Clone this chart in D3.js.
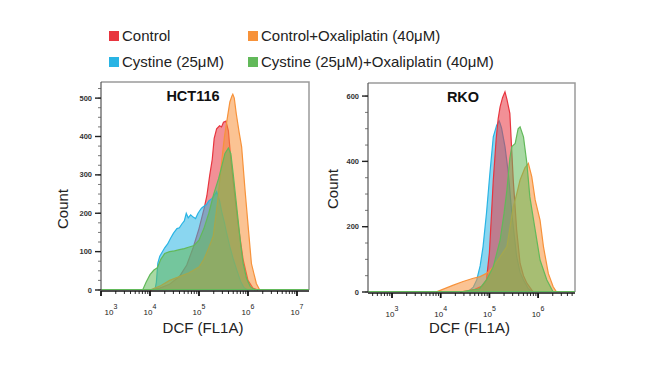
<!DOCTYPE html>
<html><head><meta charset="utf-8">
<script src="https://cdn.jsdelivr.net/npm/d3@7"></script>
<style>
html,body{margin:0;padding:0;background:#fff;}
svg{display:block;font-family:"Liberation Sans",Arial,sans-serif;}
</style></head><body>
<svg id="chart" width="650" height="369"></svg>
<script>
// ---- data (x values are log10 of DCF intensity, y values are counts) ----
const seriesNames = ["Control","Cystine (25μM)","Control+Oxaliplatin (40μM)","Cystine (25μM)+Oxaliplatin (40μM)"];
const seriesColors = ["#e8353f","#29b4e4","#f7923a","#62b95a"];
const panelTitles = ["HCT116","RKO"];
const xAxisTitle = "DCF (FL1A)";
const yAxisTitle = "Count";

// HCT116
const hctControl = [[4.0,0],[4.2,5],[4.4,15],[4.6,35],[4.75,65],[4.88,110],[5.0,160],[5.1,210],[5.16,245],[5.22,300],[5.27,340],[5.31,395],[5.36,420],[5.42,428],[5.46,425],[5.5,437],[5.55,440],[5.6,415],[5.65,340],[5.7,280],[5.8,170],[5.9,80],[6.0,25],[6.1,5],[6.2,0]];
const hctCystine = [[4.1,0],[4.13,20],[4.16,70],[4.2,88],[4.3,110],[4.36,120],[4.42,135],[4.48,148],[4.55,160],[4.6,162],[4.65,172],[4.7,180],[4.74,200],[4.78,188],[4.83,196],[4.88,190],[4.93,186],[4.98,200],[5.05,213],[5.1,218],[5.15,222],[5.2,232],[5.26,238],[5.31,246],[5.36,256],[5.42,232],[5.47,200],[5.52,175],[5.56,150],[5.63,113],[5.7,80],[5.77,52],[5.85,22],[5.92,6],[6.0,0]];
const hctControlOx = [[4.0,0],[4.2,10],[4.4,25],[4.6,35],[4.8,45],[5.0,60],[5.1,80],[5.2,110],[5.29,140],[5.38,230],[5.45,320],[5.52,400],[5.58,450],[5.63,490],[5.67,505],[5.69,510],[5.72,500],[5.76,460],[5.82,410],[5.87,373],[5.94,260],[6.01,156],[6.07,69],[6.17,17],[6.24,0]];
const hctCystineOx = [[3.85,0],[3.92,20],[4.0,40],[4.08,52],[4.15,58],[4.22,80],[4.3,95],[4.4,100],[4.5,102],[4.6,105],[4.7,108],[4.8,112],[4.9,116],[5.0,130],[5.1,160],[5.2,200],[5.3,250],[5.4,290],[5.46,320],[5.53,356],[5.6,370],[5.65,355],[5.7,300],[5.75,240],[5.8,180],[5.85,120],[5.9,70],[5.97,30],[6.05,8],[6.15,0]];

// RKO
const rkoControl = [[4.4,0],[4.7,8],[4.85,18],[4.94,37],[5.0,120],[5.04,230],[5.08,343],[5.14,470],[5.18,530],[5.22,567],[5.27,595],[5.32,613],[5.36,590],[5.42,547],[5.46,430],[5.49,343],[5.56,190],[5.63,88],[5.7,50],[5.77,27],[5.9,0]];
const rkoCystine = [[4.55,0],[4.67,15],[4.74,37],[4.81,80],[4.87,139],[4.94,241],[5.01,363],[5.08,475],[5.15,511],[5.2,524],[5.22,516],[5.25,502],[5.32,445],[5.39,363],[5.46,241],[5.56,108],[5.63,60],[5.7,37],[5.8,10],[5.9,0]];
const rkoControlOx = [[3.9,0],[3.99,5],[4.26,21],[4.46,32],[4.67,42],[4.81,47],[4.94,57],[5.08,77],[5.22,108],[5.36,139],[5.49,261],[5.56,300],[5.63,343],[5.73,380],[5.8,394],[5.87,353],[5.94,282],[6.04,220],[6.11,139],[6.21,57],[6.31,16],[6.38,0]];
const rkoCystineOx = [[4.4,0],[4.8,10],[4.94,37],[5.08,77],[5.22,159],[5.3,240],[5.36,312],[5.42,410],[5.46,445],[5.53,455],[5.59,500],[5.63,506],[5.7,475],[5.77,394],[5.83,292],[5.94,190],[6.04,98],[6.18,37],[6.31,0]];

const yTicksHct = [0,100,200,300,400,500];
const yTicksRko = [0,200,400,600];
const xTicksHct = [3,4,5,6,7];
const xTicksRko = [3,4,5,6];

// ---- drawing ----
const svg = d3.select("#chart");

// legend
const legendItems = [
  {name: seriesNames[0], color: seriesColors[0], x: 109, y: 36},
  {name: seriesNames[2], color: seriesColors[2], x: 248, y: 36},
  {name: seriesNames[1], color: seriesColors[1], x: 109, y: 62},
  {name: seriesNames[3], color: seriesColors[3], x: 248, y: 62}
];
const lg = svg.append("g");
legendItems.forEach(it => {
  lg.append("rect").attr("x", it.x).attr("y", it.y - 5).attr("width", 10).attr("height", 10).attr("fill", it.color);
  lg.append("text").attr("x", it.x + 13).attr("y", it.y + 5).attr("font-size", 15).attr("fill", "#222").text(it.name);
});

const panels = [
  {title: panelTitles[0], series: [hctControl, hctCystine, hctControlOx, hctCystineOx], order: [0,1,2,3],
   xr: [101, 309], xd: [3, 7.245], yr: [290, 82], yd: [0, 542], yTicks: yTicksHct, yMinor: 25,
   xTicks: xTicksHct, titleX: 193, countX: 68, countY: 209, firstLabelMin: 111},
  {title: panelTitles[1], series: [rkoControl, rkoCystine, rkoControlOx, rkoCystineOx], order: [1,0,2,3],
   xr: [368, 575], xd: [2.507, 6.758], yr: [292, 83], yd: [0, 640], yTicks: yTicksRko, yMinor: 50,
   xTicks: xTicksRko, titleX: 463, countX: 338, countY: 189, firstLabelMin: 0}
];

panels.forEach(p => {
  const g = svg.append("g");
  const x = d3.scaleLog().domain([Math.pow(10, p.xd[0]), Math.pow(10, p.xd[1])]).range(p.xr);
  const y = d3.scaleLinear().domain(p.yd).range(p.yr);

  // frame (top/right gray)
  g.append("path")
    .attr("d", `M${p.xr[0]},${p.yr[1]}H${p.xr[1]}V${p.yr[0]}`)
    .attr("fill", "none").attr("stroke", "#9a9a9a").attr("stroke-width", 1.5);

  // areas
  const area = d3.area().x(d => x(Math.pow(10, d[0]))).y0(y(0)).y1(d => y(d[1])).curve(d3.curveLinear);
  const line = d3.line().x(d => x(Math.pow(10, d[0]))).y(d => y(d[1])).curve(d3.curveLinear);
  p.order.forEach(si => {
    const data = p.series[si];
    const c = seriesColors[si];
    g.append("path").datum(data).attr("d", area).attr("fill", c).attr("fill-opacity", 0.55);
    g.append("path").datum(data).attr("d", line).attr("fill", "none").attr("stroke", c).attr("stroke-width", 1.2);
  });
  // baseline green line across
  g.append("line").attr("x1", p.xr[0]).attr("x2", p.xr[1]).attr("y1", y(0) - 0.5).attr("y2", y(0) - 0.5)
    .attr("stroke", seriesColors[3]).attr("stroke-width", 1.2);

  // y axis
  const yMinorVals = d3.range(p.yd[0], p.yd[1], p.yMinor);
  const ya = g.append("g").attr("transform", `translate(${p.xr[0]},0)`);
  ya.append("line").attr("x1", 0).attr("x2", 0).attr("y1", p.yr[0]).attr("y2", p.yr[1]).attr("stroke", "#555").attr("stroke-width", 1.2);
  ya.selectAll(".ymin").data(yMinorVals).join("line")
    .attr("x1", -3).attr("x2", 0).attr("y1", d => y(d)).attr("y2", d => y(d)).attr("stroke", "#555").attr("stroke-width", 0.8);
  ya.selectAll(".ymaj").data(p.yTicks).join("line")
    .attr("x1", -6).attr("x2", 0).attr("y1", d => y(d)).attr("y2", d => y(d)).attr("stroke", "#222").attr("stroke-width", 1.4);
  ya.selectAll(".ylab").data(p.yTicks).join("text")
    .attr("x", -9).attr("y", d => y(d) + 2.5).attr("text-anchor", "end")
    .attr("font-size", 7.5).attr("font-weight", "bold").attr("fill", "#333").text(d => d);

  // x axis
  const xa = g.append("g");
  const axY = p.yr[0] + 1;
  xa.append("line").attr("x1", p.xr[0]).attr("x2", p.xr[1]).attr("y1", axY).attr("y2", axY).attr("stroke", "#111").attr("stroke-width", 1.6);
  const minorVals = [];
  for (let k = Math.floor(p.xd[0]); k <= Math.ceil(p.xd[1]); k++) {
    for (let m = 1; m <= 9; m++) {
      const v = m * Math.pow(10, k);
      if (Math.log10(v) >= p.xd[0] && Math.log10(v) <= p.xd[1]) minorVals.push({v, major: m === 1});
    }
  }
  xa.selectAll(".xt").data(minorVals).join("line")
    .attr("x1", d => x(d.v)).attr("x2", d => x(d.v))
    .attr("y1", axY).attr("y2", d => axY + (d.major ? 5 : 3))
    .attr("stroke", "#111").attr("stroke-width", d => d.major ? 1.8 : 0.9);
  const lab = xa.selectAll(".xl").data(p.xTicks).join("text")
    .attr("x", d => Math.max(x(Math.pow(10, d)), p.firstLabelMin))
    .attr("y", axY + 24).attr("text-anchor", "middle")
    .attr("font-size", 8).attr("fill", "#222");
  lab.append("tspan").text("10");
  lab.append("tspan").attr("dy", -6).attr("font-size", 7).text(d => d);

  // titles
  g.append("text").attr("x", p.titleX).attr("y", p.yr[1] + 19).attr("text-anchor", "middle")
    .attr("font-size", 14.5).attr("font-weight", "bold").attr("fill", "#111").text(p.title);
  g.append("text").attr("x", (p.xr[0] + p.xr[1]) / 2 - 2).attr("y", 333).attr("text-anchor", "middle")
    .attr("font-size", 15).attr("fill", "#222").text(xAxisTitle);
  g.append("text").attr("transform", `translate(${p.countX},${p.countY}) rotate(-90)`).attr("text-anchor", "middle")
    .attr("font-size", 15).attr("fill", "#222").text(yAxisTitle);
});
</script>
</body></html>
